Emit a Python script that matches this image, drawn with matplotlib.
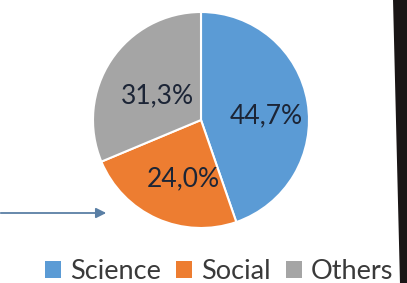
import matplotlib
matplotlib.use("Agg")
import matplotlib.pyplot as plt
from matplotlib.patches import Polygon, Patch
import numpy as np

categories = ["Science", "Social", "Others"]
values = [44.7, 24.0, 31.3]
labels = ["44,7%", "24,0%", "31,3%"]
colors = ["#5B9BD5", "#ED7D31", "#A5A5A5"]

W, H = 407, 283
fig = plt.figure(figsize=(W / 100, H / 100), dpi=100)
fig.patch.set_facecolor("white")

plt.rcParams['font.family'] = ['Lato', 'DejaVu Sans']

cx, cy, R = 201, 120, 108
ax = fig.add_axes([(cx - R) / W, (H - cy - R) / H, 2 * R / W, 2 * R / H])
wedges, _ = ax.pie(values, colors=colors, startangle=90, counterclock=False,
                   radius=1, wedgeprops=dict(edgecolor="white", linewidth=1.5))
ax.set_xlim(-1, 1)
ax.set_ylim(-1, 1)
ax.set_aspect("equal")
ax.axis("off")

# label placement (radius, angle in degrees) per slice
label_pos = [(0.61, 4), (0.57, -107), (0.46, 151)]
for lab, (r, a) in zip(labels, label_pos):
    t = np.deg2rad(a)
    ax.text(r * np.cos(t), r * np.sin(t), lab, ha="center", va="center",
            fontsize=19, color="#1C2536")

handles = [Patch(facecolor=c, edgecolor="none") for c in colors]
fig.legend(handles, categories, loc="center", bbox_to_anchor=(0.538, 0.040),
           ncol=3, frameon=False, fontsize=19.5, handlelength=0.6,
           handleheight=0.6, handletextpad=0.33, columnspacing=0.55,
           labelcolor="#3A3A3A")

# arrow on left
ax2 = fig.add_axes([0, 0, 1, 1], facecolor="none")
ax2.set_xlim(0, W)
ax2.set_ylim(H, 0)
ax2.axis("off")
ax2.annotate("", xy=(109, 213), xytext=(-2, 213),
             arrowprops=dict(arrowstyle="-|>,head_length=0.6,head_width=0.3",
                             color="#5A7FA5", lw=1.3))

# dark strip at right edge
ax2.add_patch(Polygon([(393, -1), (W + 1, -1), (W + 1, H + 1), (399.5, H + 1)],
                      closed=True, facecolor="#1A1616", edgecolor="none"))

fig.savefig("out.png", dpi=100, facecolor="white")
